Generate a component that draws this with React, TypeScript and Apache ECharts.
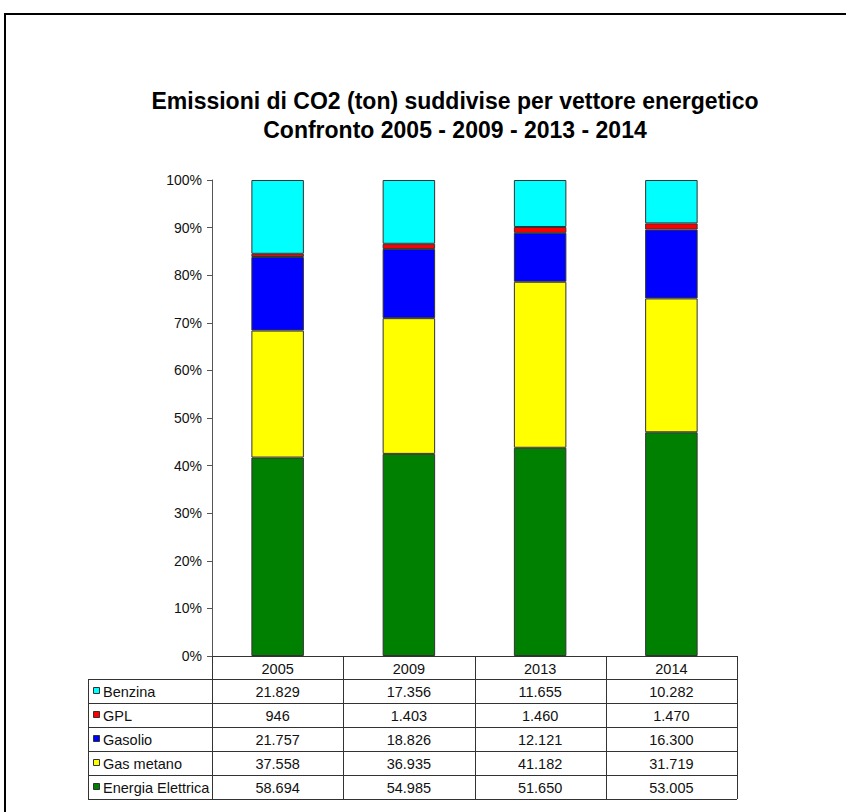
import React, { useEffect, useRef } from 'react';
import * as echarts from 'echarts';

const years = ['2005', '2009', '2013', '2014'];
// bottom to top stacking order
const seriesNames = ['Energia Elettrica', 'Gas metano', 'Gasolio', 'GPL', 'Benzina'];
const energiaElettrica = [58694, 54985, 51650, 53005];
const gasMetano = [37558, 36935, 41182, 31719];
const gasolio = [21757, 18826, 12121, 16300];
const gpl = [946, 1403, 1460, 1470];
const benzina = [21829, 17356, 11655, 10282];
const seriesColors = ['#008000', '#FFFF00', '#0000FF', '#FF0000', '#00FFFF'];
const titleLines = ['Emissioni di CO2 (ton) suddivise per vettore energetico', 'Confronto 2005 - 2009 - 2013 - 2014'];

const FONT = '"Liberation Sans", Arial, sans-serif';

function fmt(v: number): string {
  return String(v).replace(/\B(?=(\d{3})+(?!\d))/g, '.');
}

export default function App() {
  const ref = useRef<HTMLDivElement>(null);
  useEffect(() => {
    if (!ref.current) return;
    const chart = echarts.init(ref.current, null, { renderer: 'svg' });
    const raw = [energiaElettrica, gasMetano, gasolio, gpl, benzina];
    const totals = years.map((_, i) => raw.reduce((s, arr) => s + arr[i], 0));
    const series = raw.map((arr, k) => ({
      name: seriesNames[k],
      type: 'bar',
      stack: 'total',
      barWidth: '40%',
      data: arr.map((v, i) => (v / totals[i]) * 100),
      itemStyle: { color: seriesColors[k], borderColor: '#333', borderWidth: 1 },
    }));
    chart.setOption({
      animation: false,
      backgroundColor: '#fff',
      grid: { left: 212, right: 109, top: 180, bottom: 156, outerBoundsMode: 'none' },
      xAxis: {
        type: 'category',
        data: years,
        axisLine: { show: true, lineStyle: { color: '#333', width: 1 } },
        axisTick: { show: false },
        axisLabel: { color: '#111', fontSize: 14.5, fontFamily: FONT, margin: 5 },
      },
      yAxis: {
        type: 'value',
        min: 0,
        max: 100,
        interval: 10,
        splitLine: { show: false },
        axisLine: { show: true, lineStyle: { color: '#555', width: 1 } },
        axisTick: { show: true, length: 5, lineStyle: { color: '#555' } },
        axisLabel: { formatter: '{value}%', color: '#111', fontSize: 14, fontFamily: FONT, margin: 10 },
      },
      series,
    });

    const c0 = chart.convertToPixel({ xAxisIndex: 0 }, years[0]) as number;
    const c1 = chart.convertToPixel({ xAxisIndex: 0 }, years[1]) as number;
    const band = c1 - c0;
    const left = c0 - band / 2;
    const right = left + band * years.length;
    const yZero = chart.convertToPixel({ yAxisIndex: 0 }, 0) as number;
    const headerH = 23;
    const rowH = 24;
    const tableLeft = 88;
    const rowsTop = yZero + headerH;
    const tableBottom = rowsTop + rowH * seriesNames.length;
    const lineStyle = { stroke: '#333', lineWidth: 1 };
    const g: any[] = [];
    // outer frame (top and left edges only visible)
    g.push({ type: 'line', shape: { x1: 4, y1: 14, x2: 900, y2: 14 }, style: { stroke: '#000', lineWidth: 2 }, silent: true });
    g.push({ type: 'line', shape: { x1: 5, y1: 13, x2: 5, y2: 900 }, style: { stroke: '#000', lineWidth: 2 }, silent: true });
    // title
    titleLines.forEach((t, i) => {
      g.push({ type: 'text', x: 455, y: 101 + i * 29, style: { text: t, fill: '#000', font: `bold 23px ${FONT}`, align: 'center', verticalAlign: 'middle' } });
    });
    // vertical lines
    for (let i = 0; i <= years.length; i++) {
      const x = Math.round(left + band * i) + 0.5;
      g.push({ type: 'line', shape: { x1: x, y1: yZero, x2: x, y2: tableBottom }, style: lineStyle });
    }
    g.push({ type: 'line', shape: { x1: tableLeft + 0.5, y1: rowsTop, x2: tableLeft + 0.5, y2: tableBottom }, style: lineStyle });
    // horizontal lines
    for (let r = 0; r <= seriesNames.length; r++) {
      const y = Math.round(rowsTop + rowH * r) + 0.5;
      g.push({ type: 'line', shape: { x1: tableLeft, y1: y, x2: right, y2: y }, style: lineStyle });
    }
    // rows: top to bottom reverse of stack order
    const order = [4, 3, 2, 1, 0];
    order.forEach((k, r) => {
      const cy = rowsTop + rowH * r + rowH / 2;
      g.push({ type: 'rect', shape: { x: 93.5, y: Math.round(cy) - 3.5, width: 6, height: 6 }, style: { fill: seriesColors[k], stroke: '#333', lineWidth: 1 } });
      g.push({ type: 'text', x: 103, y: cy + 1, style: { text: seriesNames[k], fill: '#111', font: `14.5px ${FONT}`, align: 'left', verticalAlign: 'middle' } });
      raw[k].forEach((v, i) => {
        const cx = chart.convertToPixel({ xAxisIndex: 0 }, years[i]) as number;
        g.push({ type: 'text', x: cx, y: cy + 1, style: { text: fmt(v), fill: '#111', font: `14.5px ${FONT}`, align: 'center', verticalAlign: 'middle' } });
      });
    });
    chart.setOption({ graphic: g });
    return () => chart.dispose();
  }, []);
  return <div ref={ref} style={{ position: 'absolute', left: 0, top: 0, width: 846, height: 812, overflow: 'hidden' }} />;
}
